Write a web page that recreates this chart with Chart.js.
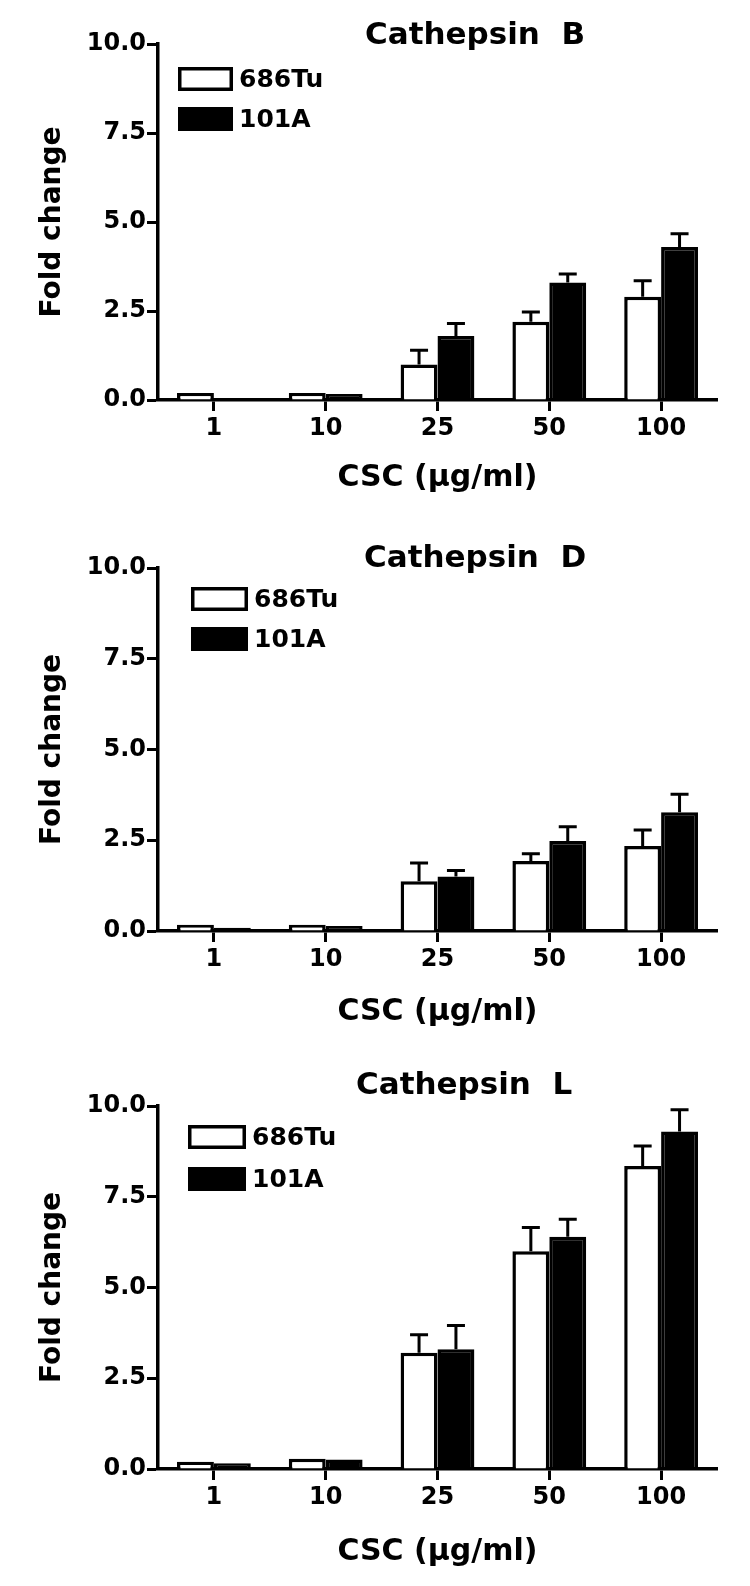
<!DOCTYPE html>
<html><head><meta charset="utf-8">
<script src="https://cdn.jsdelivr.net/npm/chart.js@4"></script>
<style>
html,body{margin:0;padding:0;background:#fff;width:750px;height:1586px;overflow:hidden}
canvas{position:absolute;left:0}
</style></head><body>
<canvas id="cB" width="750" height="520" style="top:0px;width:750px;height:520px"></canvas>
<canvas id="cD" width="750" height="520" style="top:520px;width:750px;height:520px"></canvas>
<canvas id="cL" width="750" height="546" style="top:1040px;width:750px;height:546px"></canvas>
<script>
// ---- data ----
const categories = ['1', '10', '25', '50', '100'];
const seriesNames = ['686Tu', '101A'];
const yTicks = [0, 2.5, 5.0, 7.5, 10.0];
const panelTitles = ['Cathepsin  B', 'Cathepsin  D', 'Cathepsin  L'];
const xTitle = 'CSC (\u03bcg/ml)';
const yTitle = 'Fold change';

const b686 = [0.20, 0.20, 1.00, 2.20, 2.90];
const b686Err = [0, 0, 0.40, 0.27, 0.45];
const b101 = [0.05, 0.17, 1.80, 3.30, 4.30];
const b101Err = [0, 0, 0.35, 0.24, 0.37];

const d686 = [0.17, 0.17, 1.37, 1.93, 2.34];
const d686Err = [0, 0, 0.50, 0.20, 0.44];
const d101 = [0.09, 0.14, 1.50, 2.48, 3.27];
const d101Err = [0, 0, 0.17, 0.39, 0.50];

const l686 = [0.20, 0.28, 3.20, 6.00, 8.35];
const l686Err = [0, 0, 0.50, 0.65, 0.55];
const l101 = [0.16, 0.26, 3.30, 6.40, 9.30];
const l101Err = [0, 0, 0.65, 0.48, 0.60];

// ---- drawing ----
const FONT = '"DejaVu Sans", "Liberation Sans", Arial, sans-serif';

const errorBarPlugin = {
  id: 'errorBars',
  afterDatasetsDraw(chart) {
    const ctx = chart.ctx;
    const ys = chart.scales.y;
    chart.data.datasets.forEach((ds, di) => {
      const meta = chart.getDatasetMeta(di);
      meta.data.forEach((el, i) => {
        const e = ds.errors ? ds.errors[i] : 0;
        if (!e) return;
        const yv = ys.getPixelForValue(ds.data[i]);
        const ye = ys.getPixelForValue(ds.data[i] + e);
        ctx.save();
        ctx.strokeStyle = '#000';
        ctx.lineWidth = 3;
        ctx.beginPath();
        ctx.moveTo(el.x, yv);
        ctx.lineTo(el.x, ye);
        ctx.moveTo(el.x - 9, ye);
        ctx.lineTo(el.x + 9, ye);
        ctx.stroke();
        ctx.restore();
      });
    });
  }
};

const decorPlugin = {
  id: 'decor',
  afterDraw(chart, args, opts) {
    const ctx = chart.ctx;
    ctx.save();
    // title
    ctx.fillStyle = '#000';
    ctx.font = 'bold 31px ' + FONT;
    ctx.textAlign = 'left';
    ctx.textBaseline = 'alphabetic';
    ctx.fillText(opts.title, opts.titleX, opts.titleY);
    // legend
    ctx.font = 'bold 25px ' + FONT;
    ctx.textBaseline = 'middle';
    chart.data.datasets.forEach((ds, i) => {
      const y = opts.legendY[i];
      const x = opts.legendX;
      const w = opts.boxW, h = 24;
      if (ds.backgroundColor === '#ffffff') {
        ctx.fillStyle = '#fff';
        ctx.fillRect(x, y, w, h);
        ctx.strokeStyle = '#000';
        ctx.lineWidth = 3.5;
        ctx.strokeRect(x + 1.75, y + 1.75, w - 3.5, h - 3.5);
      } else {
        ctx.fillStyle = '#000';
        ctx.fillRect(x, y, w, h);
      }
      ctx.fillStyle = '#000';
      ctx.fillText(ds.label, x + w + 6, y + h / 2 + 1);
    });
    ctx.restore();
  }
};

function makeChart(id, s686, e686, s101, e101, cfg) {
  return new Chart(document.getElementById(id), {
    type: 'bar',
    data: {
      labels: categories,
      datasets: [
        { label: seriesNames[0], data: s686, errors: e686, backgroundColor: '#ffffff', borderColor: '#000', borderWidth: 3.5, borderSkipped: 'start' },
        { label: seriesNames[1], data: s101, errors: e101, backgroundColor: '#000000', borderColor: '#000', borderWidth: 3.5, borderSkipped: 'start' }
      ]
    },
    options: {
      responsive: false,
      animation: false,
      devicePixelRatio: 1,
      layout: { padding: { top: cfg.padTop, right: 33, left: 0, bottom: 0 } },
      datasets: { bar: { categoryPercentage: 0.66, barPercentage: 1.0 } },
      plugins: {
        legend: { display: false },
        tooltip: { enabled: false },
        decor: cfg.decor
      },
      scales: {
        x: {
          grid: { display: true, drawOnChartArea: false, drawTicks: true, tickLength: 11, tickWidth: 3, tickColor: '#000', offset: false },
          border: { display: true, color: '#000', width: 3.5 },
          ticks: { color: '#000', font: { family: FONT, size: 24, weight: 'bold' }, padding: 3, maxRotation: 0, autoSkip: false },
          title: { display: true, text: xTitle, color: '#000', font: { family: FONT, size: 30, weight: 'bold' }, padding: { top: 0, bottom: cfg.xTitlePad } },
          afterFit(scale) { scale.height = cfg.xAxisH; }
        },
        y: {
          min: 0, max: 10,
          afterBuildTicks(scale) { scale.ticks = yTicks.map(v => ({ value: v })); },
          grid: { display: true, drawOnChartArea: false, drawTicks: true, tickLength: 11, tickWidth: 3, tickColor: '#000' },
          border: { display: true, color: '#000', width: 3.5 },
          ticks: { color: '#000', font: { family: FONT, size: 24, weight: 'bold' }, padding: 1, callback: v => Number(v).toFixed(1) },
          title: { display: true, text: yTitle, color: '#000', font: { family: FONT, size: 28, weight: 'bold' }, padding: { top: 36, bottom: 0 } },
          afterFit(scale) { scale.width = 158; }
        }
      }
    },
    plugins: [errorBarPlugin, decorPlugin]
  });
}

makeChart('cB', b686, b686Err, b101, b101Err, {
  padTop: 44, xAxisH: 120, xTitlePad: 24,
  decor: { title: panelTitles[0], titleX: 365, titleY: 44, legendX: 178, legendY: [67, 107], boxW: 55 }
});
makeChart('cD', d686, d686Err, d101, d101Err, {
  padTop: 48, xAxisH: 109, xTitlePad: 10,
  decor: { title: panelTitles[1], titleX: 364, titleY: 47, legendX: 191, legendY: [67, 107], boxW: 57 }
});
makeChart('cL', l686, l686Err, l101, l101Err, {
  padTop: 66, xAxisH: 117, xTitlePad: 16,
  decor: { title: panelTitles[2], titleX: 356, titleY: 54, legendX: 188, legendY: [85, 127], boxW: 58 }
});
</script>
</body></html>
